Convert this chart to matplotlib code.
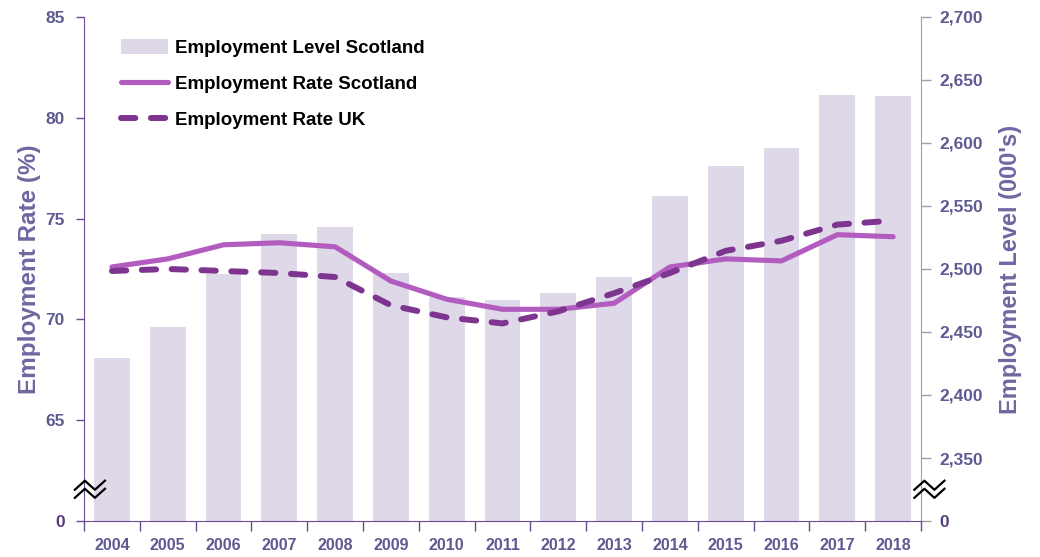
import matplotlib
matplotlib.use('Agg')
import matplotlib.pyplot as plt
from matplotlib.patches import Patch
from matplotlib.lines import Line2D
import numpy as np

years = ['2004', '2005', '2006', '2007', '2008', '2009', '2010', '2011',
         '2012', '2013', '2014', '2015', '2016', '2017', '2018']
level_scotland = [2429, 2454, 2496, 2528, 2533, 2497, 2478, 2475,
                  2481, 2494, 2558, 2582, 2596, 2638, 2637]
rate_scotland = [72.6, 73.0, 73.7, 73.8, 73.6, 71.9, 71.0, 70.5,
                 70.5, 70.8, 72.6, 73.0, 72.9, 74.2, 74.1]
rate_uk = [72.4, 72.5, 72.4, 72.3, 72.1, 70.7, 70.1, 69.8,
           70.4, 71.3, 72.3, 73.4, 73.9, 74.7, 74.9]

rate_ticks = [60, 65, 70, 75, 80, 85]
rate_ticklabels = ['0', '65', '70', '75', '80', '85']
level_ticks = [2300, 2350, 2400, 2450, 2500, 2550, 2600, 2650, 2700]
level_ticklabels = ['0', '2,350', '2,400', '2,450', '2,500', '2,550',
                    '2,600', '2,650', '2,700']

BAR = '#DED8E8'
SCOT = '#B25CC0'
UK = '#7E3590'
TICK = '#5E5A92'
ZERO = '#573E7E'
LABEL = '#6E68A2'
SPINE = '#6A4C93'

plt.rcParams['font.family'] = ['Liberation Sans', 'DejaVu Sans']

fig = plt.figure(figsize=(10.4, 5.57), dpi=100)
ax = fig.add_axes([0.0808, 0.0646, 0.8048, 0.905])
axr = ax.twinx()
ax.set_zorder(axr.get_zorder() + 1)
ax.patch.set_visible(False)

x = np.arange(len(years))
axr.bar(x, level_scotland, width=0.64, color=BAR, zorder=1)
ax.plot(x, rate_scotland, color=SCOT, lw=3.7, solid_capstyle='round',
        solid_joinstyle='round')
ax.plot(x, rate_uk, color=UK, lw=4.3, dashes=(2.4, 2.6),
        dash_capstyle='round', dash_joinstyle='round')

ax.set_xlim(-0.5, len(years) - 0.5)
ax.set_ylim(60, 85)
axr.set_ylim(2300, 2700)

# ticks at category boundaries, labels in the middle
ax.set_xticks(np.arange(len(years) + 1) - 0.5)
ax.set_xticklabels([])
ax.set_xticks(x, minor=True)
ax.set_xticklabels(years, minor=True, fontsize=11.5, fontweight='bold',
                   color=TICK, family=['Liberation Sans Narrow', 'Liberation Sans'])
ax.tick_params(axis='x', which='major', direction='out', length=7,
               color=SPINE, width=1)
ax.tick_params(axis='x', which='minor', length=0, pad=12)

ax.set_yticks(rate_ticks)
ax.set_yticklabels(rate_ticklabels, fontsize=12.5, fontweight='bold', color=TICK)
ax.tick_params(axis='y', direction='out', length=6, color=SPINE, width=1, pad=8)
ax.get_yticklabels()[0].set_color(ZERO)

axr.set_yticks(level_ticks)
axr.set_yticklabels(level_ticklabels, fontsize=12.5, fontweight='bold', color=TICK)
axr.tick_params(axis='y', direction='out', length=7, color='#A0A0A0', width=1, pad=6)
axr.get_yticklabels()[0].set_color(ZERO)

for a in (ax, axr):
    a.spines['top'].set_visible(False)
ax.spines['right'].set_visible(False)
ax.spines['left'].set_color(SPINE)
ax.spines['bottom'].set_color(SPINE)
axr.spines['left'].set_visible(False)
axr.spines['bottom'].set_visible(False)
axr.spines['right'].set_color('#A0A0A0')

ax.set_ylabel('Employment Rate (%)', fontsize=17.5, fontweight='bold',
              color=LABEL, labelpad=3)
axr.set_ylabel("Employment Level (000's)", fontsize=17, fontweight='bold',
               color=LABEL, labelpad=12)

# axis break marks
for xc in (0.007, 1.01):
    zx = np.array([-0.018, -0.006, 0.006, 0.018]) + xc
    for dy in (0.0, -0.016):
        zy = np.array([0.062, 0.08, 0.062, 0.08]) + dy
        ax.plot(zx, zy, transform=ax.transAxes, clip_on=False, color='black',
                lw=1.6, zorder=10)

handles = [Patch(facecolor=BAR, edgecolor='none'),
           Line2D([], [], color=SCOT, lw=3.7, solid_capstyle='round'),
           Line2D([], [], color=UK, lw=4.3, dashes=(2.4, 2.6),
                  dash_capstyle='round')]
labels = ['Employment Level Scotland', 'Employment Rate Scotland',
          'Employment Rate UK']
ax.legend(handles, labels, loc='upper left', bbox_to_anchor=(0.033, 0.975),
          frameon=False, borderpad=0, handlelength=2.5, handleheight=0.9,
          handletextpad=0.4, labelspacing=0.95,
          prop={'weight': 'bold', 'size': 13.5})

fig.savefig('out.png', dpi=100)
